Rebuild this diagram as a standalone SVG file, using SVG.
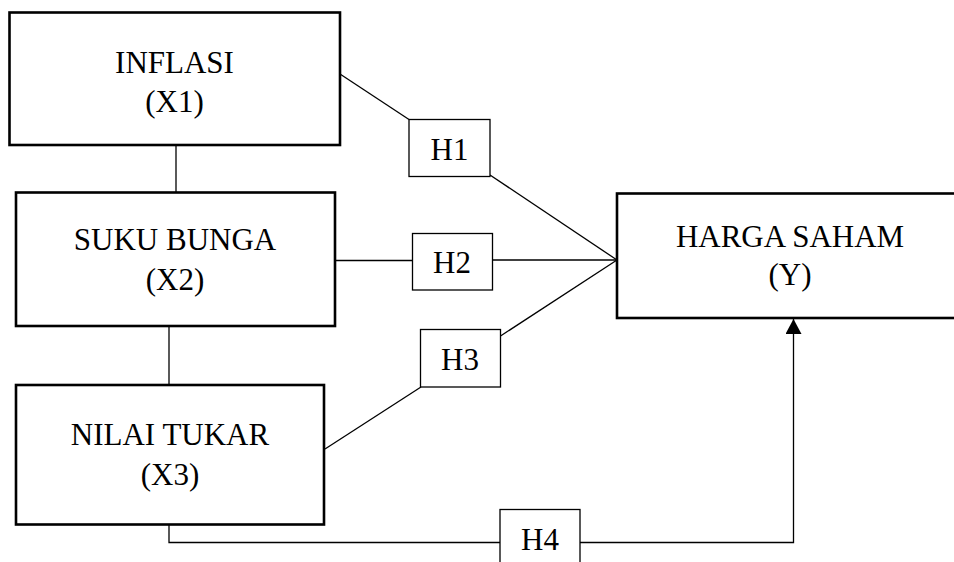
<svg xmlns="http://www.w3.org/2000/svg" width="954" height="562" viewBox="0 0 954 562">
<defs>
<style>
.box{fill:#fff;stroke:#000;stroke-width:2.6}
.hbox{fill:#fff;stroke:#000;stroke-width:1.3}
.ln{fill:none;stroke:#000;stroke-width:1.3}
text{font-family:"Liberation Serif","Times New Roman",serif;font-size:31px;fill:#000;text-anchor:middle}
</style>
<marker id="arr" markerUnits="userSpaceOnUse" viewBox="0 0 15 16" refX="15" refY="8" markerWidth="15" markerHeight="16" orient="auto">
<path d="M0,0 L15,8 L0,16 Z" fill="#000"/>
</marker>
</defs>
<rect width="954" height="562" fill="#fff"/>
<g id="connectors">
<line class="ln" x1="176" y1="145" x2="176" y2="192"/>
<line class="ln" x1="169" y1="326" x2="169" y2="385"/>
<line class="ln" x1="340" y1="74" x2="409" y2="119.5"/>
<line class="ln" x1="490" y1="175" x2="617" y2="260"/>
<line class="ln" x1="335" y1="260.5" x2="412" y2="260.5"/>
<line class="ln" x1="492" y1="260" x2="617" y2="260"/>
<line class="ln" x1="500.5" y1="336" x2="617" y2="260"/>
<line class="ln" x1="325" y1="449" x2="421" y2="387"/>
<polyline class="ln" points="169,525 169,542.5 500,542.5"/>
<polyline class="ln" points="580,542.5 793.5,542.5 793.5,319" marker-end="url(#arr)"/>
</g>
<g id="inflasi">
<rect class="box" x="9.5" y="12.5" width="330.5" height="132.5"/>
<text x="174.5" y="73">INFLASI</text>
<text x="174.5" y="112">(X1)</text>
</g>
<g id="suku-bunga">
<rect class="box" x="16" y="192.5" width="319" height="133.5"/>
<text x="175" y="250">SUKU BUNGA</text>
<text x="175" y="290">(X2)</text>
</g>
<g id="nilai-tukar">
<rect class="box" x="16" y="385" width="308" height="139.5"/>
<text x="170" y="445">NILAI TUKAR</text>
<text x="170" y="485">(X3)</text>
</g>
<g id="harga-saham">
<rect class="box" x="617" y="193.5" width="350" height="124.5"/>
<text x="790" y="247">HARGA SAHAM</text>
<text x="790" y="285">(Y)</text>
</g>
<g id="h1">
<rect class="hbox" x="409" y="119.5" width="81" height="57"/>
<text x="449.5" y="160">H1</text>
</g>
<g id="h2">
<rect class="hbox" x="412.5" y="233.5" width="80" height="56.5"/>
<text x="452" y="273">H2</text>
</g>
<g id="h3">
<rect class="hbox" x="420.5" y="329.5" width="80" height="57.5"/>
<text x="460" y="370">H3</text>
</g>
<g id="h4">
<rect class="hbox" x="500" y="509.5" width="80" height="60"/>
<text x="540" y="550">H4</text>
</g>
</svg>
